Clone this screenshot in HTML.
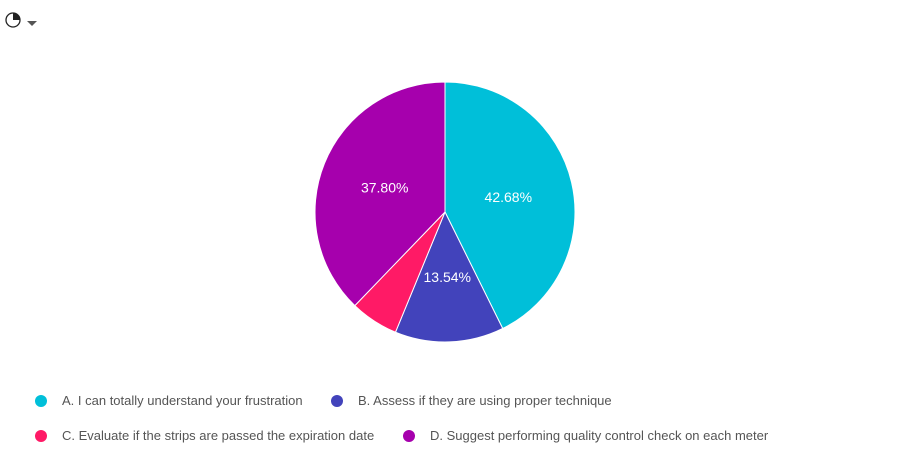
<!DOCTYPE html>
<html><head><meta charset="utf-8"><style>
body{margin:0;width:903px;height:460px;background:#fff;font-family:"Liberation Sans",sans-serif;overflow:hidden;position:relative}
.leg{position:absolute;font-size:13px;color:#555;display:flex;align-items:center}
.dot{width:12px;height:12px;border-radius:50%;margin-right:15px}
</style></head><body>
<svg style="position:absolute;left:4px;top:10px" width="36" height="22">
<circle cx="9" cy="10" r="7" fill="none" stroke="#222" stroke-width="1.3"/>
<path d="M9 10 L9 3 A7 7 0 0 1 16 10 Z" fill="#222"/>
<path d="M23 11 L33 11 L28 16 Z" fill="#555"/>
</svg>
<svg id="pie" width="903" height="380" style="position:absolute;left:0;top:0"></svg>
<div id="legend"></div>
<script>
const labels=["A. I can totally understand your frustration","B. Assess if they are using proper technique","C. Evaluate if the strips are passed the expiration date","D. Suggest performing quality control check on each meter"];
const values=[42.68,13.54,5.98,37.80];
const colors=["#00bfd9","#4243bb","#ff1a66","#a600ad"];
const svg=document.getElementById('pie');const NS="http://www.w3.org/2000/svg";
const cx=445,cy=212,r=130;
const total=values.reduce((a,b)=>a+b,0);
let a0=0;
values.forEach((v,i)=>{
  const a1=a0+v/total*2*Math.PI;
  const p=(a)=>[cx+r*Math.sin(a),cy-r*Math.cos(a)];
  const [x0,y0]=p(a0),[x1,y1]=p(a1);
  const path=document.createElementNS(NS,'path');
  path.setAttribute('d',`M${cx} ${cy} L${x0} ${y0} A${r} ${r} 0 ${a1-a0>Math.PI?1:0} 1 ${x1} ${y1} Z`);
  path.setAttribute('fill',colors[i]);path.setAttribute('stroke','#fff');path.setAttribute('stroke-width','1');
  
  
  svg.appendChild(path);
  if(v/total>0.1){
    const m=(a0+a1)/2,lr=r*0.5;
    const t=document.createElementNS(NS,'text');
    t.setAttribute('x',cx+lr*Math.sin(m));t.setAttribute('y',cy-lr*Math.cos(m)+5);
    t.setAttribute('text-anchor','middle');t.setAttribute('fill','#fff');t.setAttribute('font-size','14');
    t.setAttribute('font-family','Liberation Sans, sans-serif');
    
    
    t.textContent=v.toFixed(2)+'%';svg.appendChild(t);
  }
  a0=a1;
});
const pos=[[35,393],[331,393],[35,428],[403,428]];
const lg=document.getElementById('legend');
labels.forEach((l,i)=>{
  const d=document.createElement('div');d.className='leg';
  
  
  d.style.left=pos[i][0]+'px';d.style.top=pos[i][1]+'px';
  d.innerHTML=`<span class="dot" style="background:${colors[i]}"></span><span>${l}</span>`;
  lg.appendChild(d);
});
</script>
</body></html>
